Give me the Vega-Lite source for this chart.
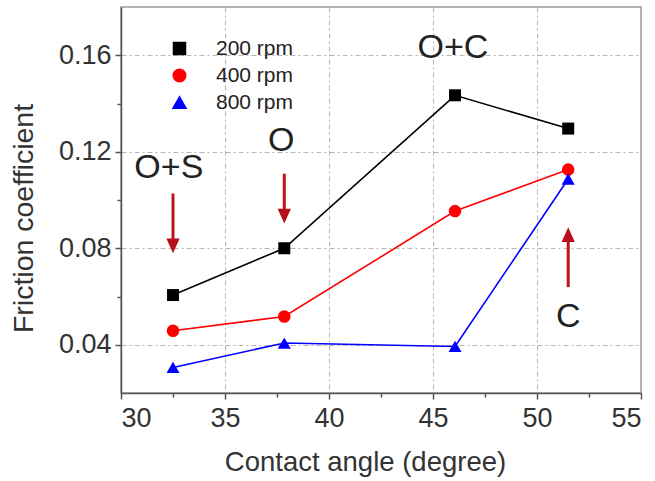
{
  "$schema": "https://vega.github.io/schema/vega-lite/v6.json",
  "width": 520,
  "height": 386,
  "autosize": "none",
  "padding": {"left": 121, "top": 7, "right": 14, "bottom": 88},
  "background": "white",
  "config": {
    "view": {"stroke": "#9a9a9a", "strokeWidth": 1.5},
    "font": "Liberation Sans",
    "axis": {
      "labelFont": "Liberation Sans",
      "titleFont": "Liberation Sans",
      "labelColor": "#333333",
      "titleColor": "#333333",
      "titleFontWeight": "normal",
      "domainColor": "#555555",
      "domainWidth": 1.5,
      "tickColor": "#555555",
      "tickWidth": 1.5
    }
  },
  "datasets": {
    "friction": [
      {"angle": 32.5, "mu": 0.0606, "speed": "200 rpm"},
      {"angle": 37.85, "mu": 0.0800, "speed": "200 rpm"},
      {"angle": 46.06, "mu": 0.1434, "speed": "200 rpm"},
      {"angle": 51.5, "mu": 0.1296, "speed": "200 rpm"},
      {"angle": 32.5, "mu": 0.0458, "speed": "400 rpm"},
      {"angle": 37.85, "mu": 0.0517, "speed": "400 rpm"},
      {"angle": 46.06, "mu": 0.0954, "speed": "400 rpm"},
      {"angle": 51.5, "mu": 0.1126, "speed": "400 rpm"},
      {"angle": 32.5, "mu": 0.0306, "speed": "800 rpm"},
      {"angle": 37.85, "mu": 0.0407, "speed": "800 rpm"},
      {"angle": 46.06, "mu": 0.0393, "speed": "800 rpm"},
      {"angle": 51.5, "mu": 0.1087, "speed": "800 rpm"}
    ],
    "arrows": [
      {"angle": 32.5, "tail": 0.1027, "neck": 0.0810, "tip": 0.0779, "dir": "down"},
      {"angle": 37.85, "tail": 0.1109, "neck": 0.0934, "tip": 0.0903, "dir": "down"},
      {"angle": 51.5, "tail": 0.0639, "neck": 0.0856, "tip": 0.0887, "dir": "up"}
    ],
    "labels": [
      {"angle": 32.3, "mu": 0.1134, "text": "O+S"},
      {"angle": 37.7, "mu": 0.1245, "text": "O"},
      {"angle": 45.96, "mu": 0.1629, "text": "O+C"},
      {"angle": 51.5, "mu": 0.0515, "text": "C"}
    ]
  },
  "resolve": {"axis": {"x": "independent", "y": "independent"}},
  "layer": [
    {
      "data": {"name": "friction"},
      "mark": {"type": "point", "opacity": 0},
      "encoding": {
        "x": {
          "field": "angle", "type": "quantitative",
          "scale": {"domain": [30, 55], "nice": false, "zero": false},
          "axis": {
            "orient": "bottom",
            "values": [32.5, 37.5, 42.5, 47.5, 52.5],
            "labels": false, "domain": false, "grid": false,
            "tickSize": 4, "title": null
          }
        },
        "y": {
          "field": "mu", "type": "quantitative",
          "scale": {"domain": [0.02, 0.18], "nice": false, "zero": false},
          "axis": {
            "orient": "left",
            "values": [0.06, 0.10, 0.14],
            "labels": false, "domain": false, "grid": false,
            "tickSize": 4, "title": null
          }
        }
      }
    },
    {
      "data": {"name": "friction"},
      "mark": {"type": "line", "strokeWidth": 1.6},
      "encoding": {
        "x": {
          "field": "angle", "type": "quantitative",
          "axis": {
            "orient": "bottom",
            "values": [30, 35, 40, 45, 50, 55],
            "tickSize": 6,
            "labelFontSize": 27,
            "labelPadding": 6,
            "grid": true,
            "gridColor": "#b5b5b5",
            "gridDash": [5, 3, 2, 3],
            "gridWidth": 1,
            "title": "Contact angle (degree)",
            "titleFontSize": 27.5,
            "titlePadding": 17,
            "titleX": 244
          }
        },
        "y": {
          "field": "mu", "type": "quantitative",
          "axis": {
            "orient": "left",
            "values": [0.04, 0.08, 0.12, 0.16],
            "format": ".2f",
            "tickSize": 6,
            "labelFontSize": 27,
            "labelPadding": 4,
            "grid": true,
            "gridColor": "#b5b5b5",
            "gridDash": [5, 3, 2, 3],
            "gridWidth": 1,
            "title": "Friction coefficient",
            "titleFontSize": 28.5,
            "titlePadding": 20,
            "titleY": 211
          }
        },
        "color": {
          "field": "speed", "type": "nominal",
          "scale": {"domain": ["200 rpm", "400 rpm", "800 rpm"], "range": ["#000000", "#ff0000", "#0000ff"]},
          "legend": {
            "title": null,
            "orient": "none",
            "legendX": 48,
            "legendY": 31,
            "padding": 0,
            "symbolSize": 144,
            "labelFont": "Liberation Sans",
            "labelFontSize": 21,
            "labelColor": "#222222",
            "labelOffset": 26,
            "rowPadding": 5
          }
        },
        "detail": {"field": "speed"}
      }
    },
    {
      "data": {"name": "friction"},
      "mark": {"type": "point", "filled": true, "opacity": 1, "size": 150},
      "encoding": {
        "x": {"field": "angle", "type": "quantitative", "axis": null},
        "y": {"field": "mu", "type": "quantitative", "axis": null},
        "color": {
          "field": "speed", "type": "nominal",
          "scale": {"domain": ["200 rpm", "400 rpm", "800 rpm"], "range": ["#000000", "#ff0000", "#0000ff"]}
        },
        "shape": {
          "field": "speed", "type": "nominal",
          "scale": {"domain": ["200 rpm", "400 rpm", "800 rpm"], "range": ["square", "circle", "triangle-up"]},
          "legend": null
        },
        "size": {
          "field": "speed", "type": "nominal",
          "scale": {"domain": ["200 rpm", "400 rpm", "800 rpm"], "range": [144, 170, 220]},
          "legend": null
        }
      }
    },
    {
      "data": {"name": "arrows"},
      "mark": {"type": "rule", "color": "#c0141c", "strokeWidth": 3},
      "encoding": {
        "x": {"field": "angle", "type": "quantitative", "axis": null},
        "y": {"field": "tail", "type": "quantitative", "axis": null},
        "y2": {"field": "neck"}
      }
    },
    {
      "data": {"name": "arrows"},
      "transform": [{"filter": "datum.dir === 'down'"}],
      "mark": {"type": "point", "filled": true, "color": "#b8101a", "opacity": 1, "size": 196, "shape": "M0,0L-0.95,-2.1L0.95,-2.1Z"},
      "encoding": {
        "x": {"field": "angle", "type": "quantitative", "axis": null},
        "y": {"field": "tip", "type": "quantitative", "axis": null}
      }
    },
    {
      "data": {"name": "arrows"},
      "transform": [{"filter": "datum.dir === 'up'"}],
      "mark": {"type": "point", "filled": true, "color": "#b8101a", "opacity": 1, "size": 196, "shape": "M0,0L-0.95,2.1L0.95,2.1Z"},
      "encoding": {
        "x": {"field": "angle", "type": "quantitative", "axis": null},
        "y": {"field": "tip", "type": "quantitative", "axis": null}
      }
    },
    {
      "data": {"name": "labels"},
      "mark": {"type": "text", "font": "Liberation Sans", "fontSize": 34, "color": "#222222", "align": "center", "baseline": "middle"},
      "encoding": {
        "x": {"field": "angle", "type": "quantitative", "axis": null},
        "y": {"field": "mu", "type": "quantitative", "axis": null},
        "text": {"field": "text"}
      }
    }
  ]
}
